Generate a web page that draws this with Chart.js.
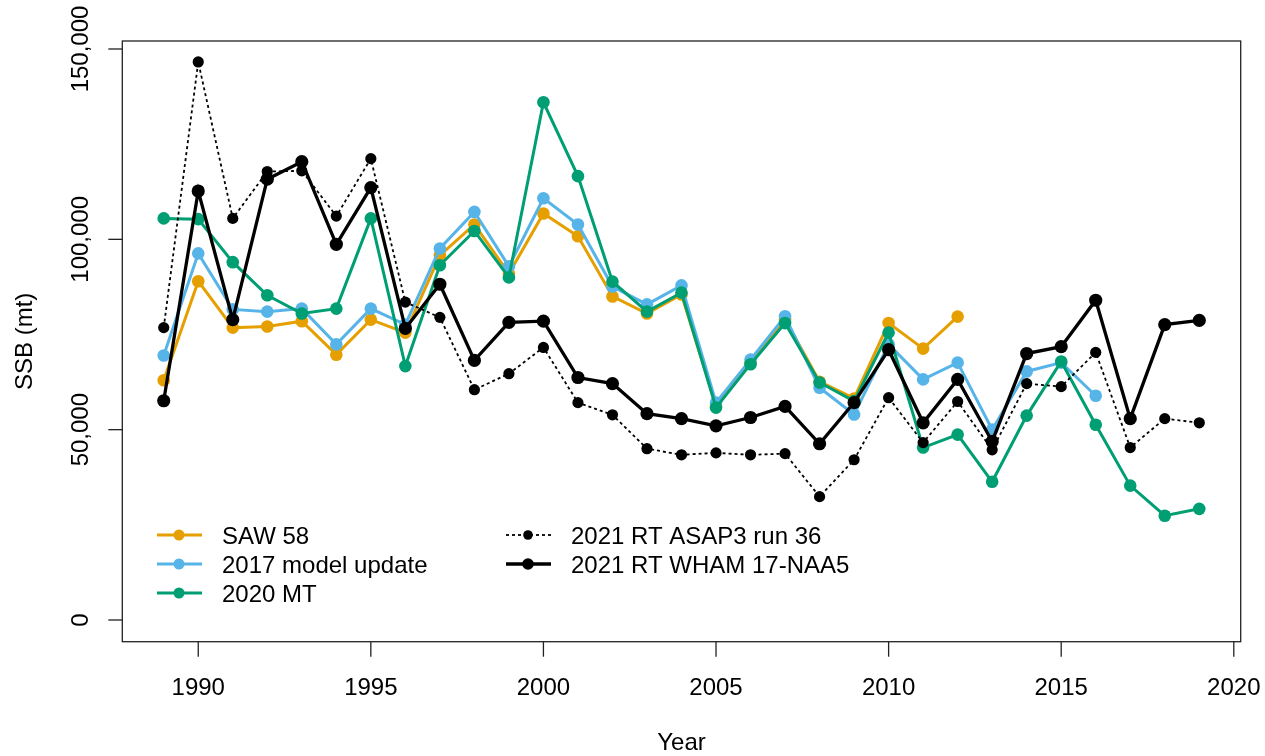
<!DOCTYPE html>
<html>
<head>
<meta charset="utf-8">
<script src="https://cdn.jsdelivr.net/npm/chart.js@4.4.1/dist/chart.umd.min.js"></script>
<style>
  html, body { margin: 0; padding: 0; background: #fff; }
  #wrap { width: 1265px; height: 756px; }
</style>
</head>
<body>
<div id="wrap"><canvas id="ssb" width="1265" height="756"></canvas></div>
<script>
// Years on the x axis
const years = [1989, 1990, 1991, 1992, 1993, 1994, 1995, 1996, 1997, 1998,
  1999, 2000, 2001, 2002, 2003, 2004, 2005, 2006, 2007, 2008,
  2009, 2010, 2011, 2012, 2013, 2014, 2015, 2016, 2017, 2018, 2019];

// SSB (mt) per run, starting in 1989
const saw58 = [63000, 89000, 76800, 77100, 78500, 69700, 78900, 75500, 95800, 103900,
  91000, 106800, 100800, 85000, 80500, 85500, 56300, 67600, 79000, 62600,
  58200, 78000, 71300, 79700];
const update2017 = [69500, 96300, 81600, 81000, 81800, 72400, 81800, 77600, 97600, 107200,
  92900, 110800, 103900, 87600, 82900, 87900, 57100, 68400, 79800, 61000,
  54000, 72400, 63200, 67600, 50000, 65300, 67600, 58900];
const mt2020 = [105500, 105300, 94000, 85300, 80500, 81800, 105500, 66700, 93200, 102200,
  90000, 136000, 116600, 88900, 81000, 86000, 55800, 67200, 78000, 62400,
  57500, 75500, 45300, 48700, 36300, 53700, 67900, 51300, 35300, 27400, 29200];
const asapRun36 = [76800, 146600, 105500, 117800, 118000, 106100, 121200, 83500, 79500, 60500,
  64700, 71600, 57100, 53900, 45000, 43400, 43900, 43400, 43700, 32400,
  42100, 58400, 46600, 57400, 44700, 62100, 61300, 70300, 45300, 52900, 51800];
const whamNaa5 = [57600, 112700, 78900, 115800, 120400, 98700, 113600, 76600, 88200, 68200,
  78200, 78500, 63700, 62100, 54200, 52900, 51000, 53200, 56100, 46300,
  57100, 71000, 51800, 63200, 46900, 70000, 71800, 84000, 52900, 77600, 78700];

// Axis ticks
const xTicks = [1990, 1995, 2000, 2005, 2010, 2015, 2020];
const yTicks = [0, 50000, 100000, 150000];
const yTickLabels = ['0', '50,000', '100,000', '150,000'];

const FONT = "24px 'Liberation Sans', Arial, sans-serif";

// Pairs each value with its year
const pts = vals => vals.map((v, i) => ({ x: years[i], y: v }));

// Builds one R-style "type='o'" series
const series = (label, color, vals, opts = {}) => Object.assign({
  label,
  data: pts(vals),
  borderColor: color,
  backgroundColor: color,
  pointBackgroundColor: color,
  pointBorderWidth: 0,
  borderWidth: 3,
  pointRadius: 6.3,
  pointHoverRadius: 6.3,
  tension: 0,
}, opts);

// Box, ticks, rotated y labels, titles and the two-column legend
const rAxes = {
  id: 'rAxes',
  afterDraw(chart) {
    const { ctx, chartArea: a, scales: { x, y } } = chart;
    ctx.save();
    ctx.strokeStyle = '#222';
    ctx.lineWidth = 1.3;
    ctx.strokeRect(a.left, a.top, a.right - a.left, a.bottom - a.top);

    ctx.fillStyle = '#000';
    ctx.font = FONT;
    ctx.textAlign = 'center';
    ctx.textBaseline = 'alphabetic';

    xTicks.forEach(t => {
      const px = x.getPixelForValue(t);
      ctx.beginPath();
      ctx.moveTo(px, a.bottom);
      ctx.lineTo(px, a.bottom + 15);
      ctx.stroke();
      ctx.fillText(String(t), px, 695);
    });

    yTicks.forEach((t, i) => {
      const py = y.getPixelForValue(t);
      ctx.beginPath();
      ctx.moveTo(a.left - 14, py);
      ctx.lineTo(a.left, py);
      ctx.stroke();
      ctx.save();
      ctx.translate(a.left - 34, py);
      ctx.rotate(-Math.PI / 2);
      ctx.fillText(yTickLabels[i], 0, 0);
      ctx.restore();
    });

    ctx.fillText('Year', (a.left + a.right) / 2, 750);
    ctx.save();
    ctx.translate(32, (a.top + a.bottom) / 2);
    ctx.rotate(-Math.PI / 2);
    ctx.fillText('SSB (mt)', 0, 0);
    ctx.restore();

    // Legend
    const items = [
      { i: 0, cx: 157, row: 535 },
      { i: 1, cx: 157, row: 564 },
      { i: 2, cx: 157, row: 593 },
      { i: 3, cx: 506, row: 535 },
      { i: 4, cx: 506, row: 564 },
    ];
    ctx.textAlign = 'left';
    items.forEach(it => {
      const ds = chart.data.datasets[it.i];
      ctx.strokeStyle = ds.borderColor;
      ctx.lineWidth = ds.borderWidth;
      ctx.setLineDash(ds.borderDash || []);
      ctx.beginPath();
      ctx.moveTo(it.cx, it.row);
      ctx.lineTo(it.cx + 45, it.row);
      ctx.stroke();
      ctx.setLineDash([]);
      ctx.fillStyle = ds.borderColor;
      ctx.beginPath();
      ctx.arc(it.cx + 22, it.row, ds.pointRadius - 0.8, 0, Math.PI * 2);
      ctx.fill();
      ctx.fillStyle = '#000';
      ctx.fillText(ds.label, it.cx + 65, it.row + 9);
    });
    ctx.restore();
  },
};

new Chart(document.getElementById('ssb'), {
  type: 'line',
  data: {
    datasets: [
      series('SAW 58', '#E69F00', saw58, { order: 5 }),
      series('2017 model update', '#56B4E9', update2017, { order: 4 }),
      series('2020 MT', '#009E73', mt2020, { order: 3 }),
      series('2021 RT ASAP3 run 36', '#000000', asapRun36,
        { order: 2, borderWidth: 1.8, borderDash: [3, 3], pointRadius: 5.6, pointHoverRadius: 5.6 }),
      series('2021 RT WHAM 17-NAA5', '#000000', whamNaa5, { order: 1, borderWidth: 3.3, pointRadius: 6.6, pointHoverRadius: 6.6 }),
    ],
  },
  options: {
    responsive: false,
    animation: false,
    layout: { padding: { left: 122.3, right: 24.3, top: 41, bottom: 114.3 } },
    plugins: { legend: { display: false }, tooltip: { enabled: false } },
    scales: {
      x: { type: 'linear', min: 1987.8, max: 2020.2, display: false },
      y: { type: 'linear', min: -5700, max: 152100, display: false },
    },
  },
  plugins: [rAxes],
});
</script>
</body>
</html>
